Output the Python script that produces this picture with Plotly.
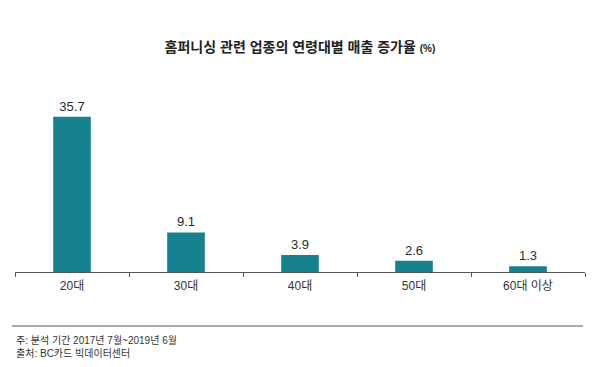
import plotly.graph_objects as go

categories = ["20대", "30대", "40대", "50대", "60대 이상"]
values = [35.7, 9.1, 3.9, 2.6, 1.3]
value_labels = ["35.7", "9.1", "3.9", "2.6", "1.3"]

title_text = "<b>홈퍼니싱 관련 업종의 연령대별 매출 증가율</b> <span style='font-size:10px'><b>(%)</b></span>"
note_lines = ["주: 분석 기간 2017년 7월~2019년 6월", "출처: BC카드 빅데이터센터"]

W, H = 606, 367
L, R, T, B = 15, 21, 98, 95
PW, PH = W - L - R, H - T - B

def px(x):
    return (x - L) / PW

def py(y):
    return (H - B - y) / PH

FONT = "Liberation Sans, Arial, Noto Sans CJK KR, sans-serif"
TEAL = "#16818f"

fig = go.Figure()
fig.add_trace(go.Bar(
    x=categories, y=values,
    text=value_labels, textposition="outside", cliponaxis=False,
    textfont=dict(size=13, color="#2a2a2a", family=FONT),
    marker=dict(color=TEAL, line=dict(width=0)),
    hoverinfo="skip",
))

fig.update_layout(
    width=W, height=H,
    margin=dict(l=L, r=R, t=T, b=B),
    paper_bgcolor="white", plot_bgcolor="white",
    bargap=0.67,
    showlegend=False,
    font=dict(family=FONT, color="#2a2a2a"),
    title=dict(text=title_text, x=0.495, xanchor="center", y=1 - 47 / H, yanchor="middle",
               font=dict(size=14, color="#222222", family=FONT)),
    xaxis=dict(
        showline=True, linecolor="#555555", linewidth=1,
        ticks="outside", tickson="boundaries", ticklen=4, tickcolor="#555555",
        showgrid=False, zeroline=False, ticklabelstandoff=3,
        tickfont=dict(size=12, color="#333333", family=FONT),
    ),
    yaxis=dict(range=[0, 40], visible=False, showgrid=False, zeroline=False),
)

for i, line in enumerate(note_lines):
    fig.add_annotation(
        text=line, xref="paper", yref="paper",
        x=px(14), y=py(340 + i * 13.5), xanchor="left", yanchor="middle",
        showarrow=False, font=dict(size=10, color="#333333", family=FONT),
    )

fig.add_shape(type="line", xref="paper", yref="paper",
              x0=px(12), x1=px(583), y0=py(326), y1=py(326),
              line=dict(color="#555555", width=1))

fig.write_html("out.html", config={"displayModeBar": False},
               post_script="document.body.style.margin='0';document.body.style.overflow='hidden';")
